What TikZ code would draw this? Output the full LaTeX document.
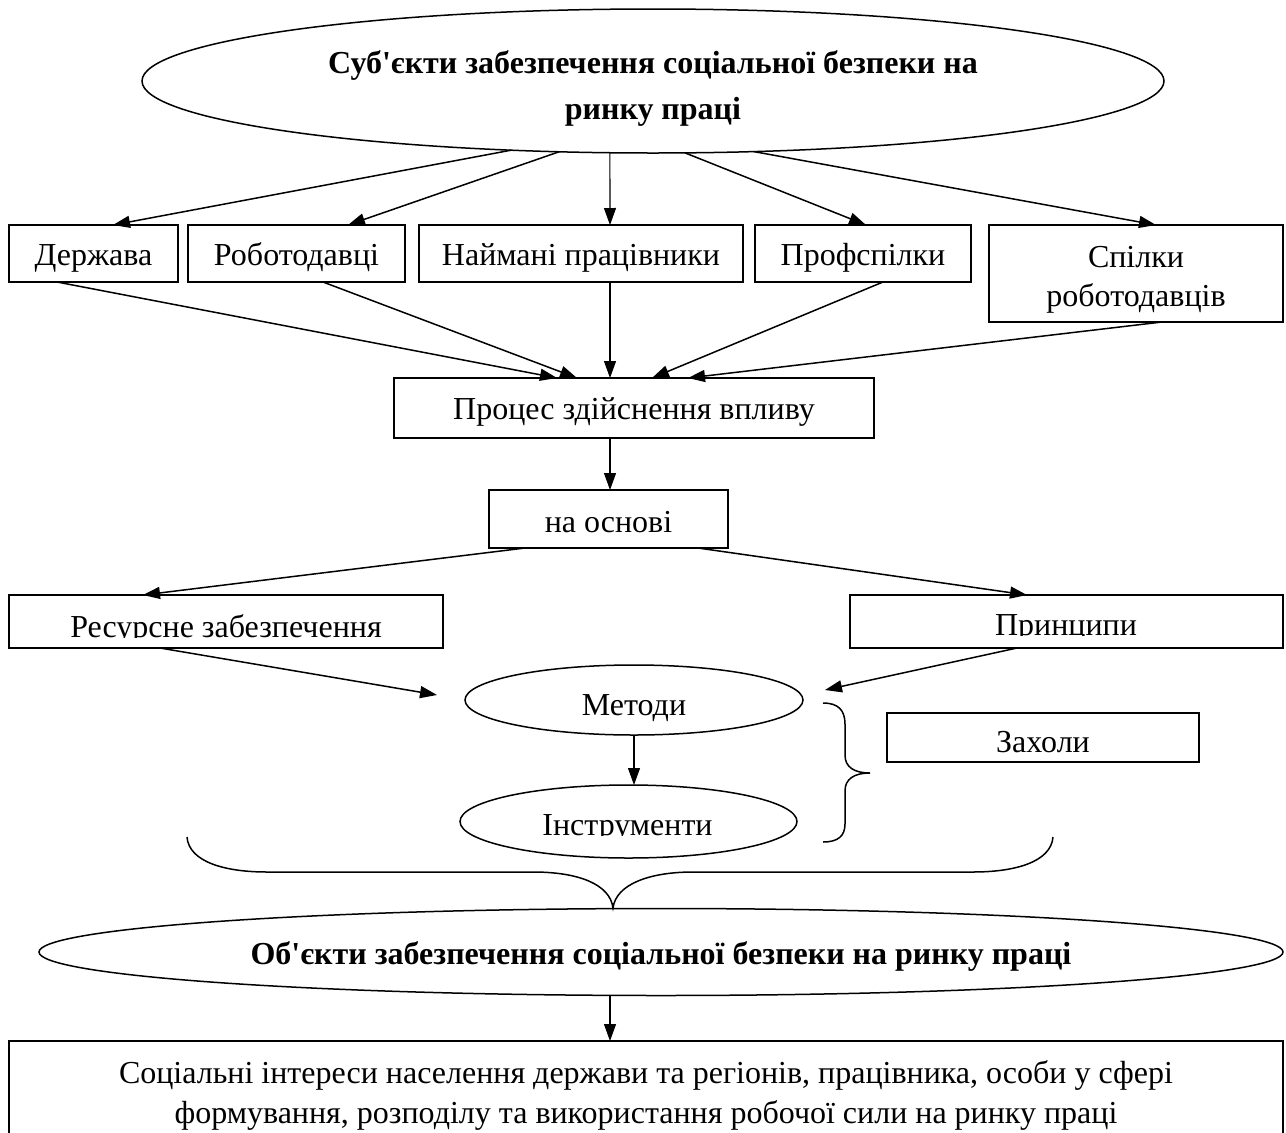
\documentclass[tikz,border=0pt]{standalone}
\usepackage{fontspec}
\setmainfont{Liberation Serif}[Ligatures=TeXOff]
\usetikzlibrary{shapes.geometric,arrows.meta,calc}
\begin{document}
\begin{tikzpicture}[x=1pt,y=-1pt,
  bx/.style={draw,line width=1.5pt,rectangle,inner sep=0pt,outer sep=0pt,
    font=\fontsize{32}{38}\selectfont,align=center,text height=23pt,text depth=0pt},
  bxtwo/.style={draw,line width=1.5pt,rectangle,inner sep=0pt,outer sep=0pt,
    font=\fontsize{32}{39}\selectfont,align=center},
  ell/.style={draw,line width=1.5pt,ellipse,inner sep=0pt,outer sep=0pt,
    font=\fontsize{32}{38}\selectfont,align=center},
  txt/.style={inner sep=0pt,outer sep=0pt,font=\fontsize{32}{38}\selectfont,align=center},
  ttl/.style={inner sep=0pt,outer sep=0pt,font=\bfseries\fontsize{32}{46}\selectfont,align=center},
  arr/.style={line width=1.5pt,-{Triangle[length=17pt,width=12pt]}},
  thinarr/.style={line width=1.1pt,-{Triangle[length=17pt,width=12pt]}},
  brace/.style={line width=1.5pt}
]
\clip (0,0) rectangle (1286,1133);
\fill[white] (0,0) rectangle (1286,1133);

% top ellipse
\node[ell,minimum width=1022pt,minimum height=144pt] (subj) at (653,81) {};
\node[ttl] (subjtxt) at (653,88) {Суб'єкти забезпечення соціальної безпеки на\\ринку праці};

% row of boxes
\node[bx,minimum width=169pt,minimum height=57pt] (derzh) at (93.5,253.5) {Держава};
\node[bx,minimum width=217pt,minimum height=57pt] (robot) at (296.5,253.5) {Роботодавці};
\node[bx,minimum width=324pt,minimum height=57pt] (naim) at (581,253.5) {Наймані працівники};
\node[bx,minimum width=216pt,minimum height=57pt] (prof) at (863,253.5) {Профспілки};
\node[bxtwo,minimum width=294pt,minimum height=97pt] (spilk) at (1136,273.5) {\rule{0pt}{33pt}Спілки\\роботодавців};

\draw[arr] (subj.206.3) -- ([xshift=19.5pt]derzh.north);
\draw[arr] (subj.217.9) -- ([xshift=51.5pt]robot.north);
\draw[thinarr] (subj.239.05) -- ([xshift=29pt]naim.north);
\draw[arr] (subj.294.7) -- ([xshift=3pt]prof.north);
\draw[arr] (subj.325.3) -- ([xshift=20pt]spilk.north);

% process
\node[bx,minimum width=480pt,minimum height=60pt] (proc) at (634,408) {Процес здійснення впливу};
\draw[arr] ([xshift=-36.5pt]derzh.south) -- ([xshift=-77pt]proc.north);
\draw[arr] ([xshift=26.5pt]robot.south) -- ([xshift=-57pt]proc.north);
\draw[thinarr] ([xshift=29pt]naim.south) -- ([xshift=-24pt]proc.north);
\draw[arr] ([xshift=20pt]prof.south) -- ([xshift=18pt]proc.north);
\draw[arr] ([xshift=26pt]spilk.south) -- ([xshift=54pt]proc.north);

% on the basis
\node[bx,minimum width=239pt,minimum height=58pt,text height=26pt] (osn) at (608.5,519) {на основі};
\draw[thinarr] ([xshift=-24pt]proc.south) -- ([xshift=-24pt]proc.south |- osn.north);

% resources / principles
\node[draw,line width=1.5pt,rectangle,inner sep=0pt,outer sep=0pt,minimum width=434pt,minimum height=53pt] (res) at (226,621.5) {};
\node[draw,line width=1.5pt,rectangle,inner sep=0pt,outer sep=0pt,minimum width=433pt,minimum height=53pt] (princ) at (1066.5,621.5) {};
\begin{scope}
  \clip (10,596) rectangle (442,637.5);
  \node[txt,anchor=base] (restxt) at (226,637) {Ресурсне забезпечення};
\end{scope}
\begin{scope}
  \clip (851,596) rectangle (1282,635.5);
  \node[txt,anchor=base] (princtxt) at (1066,635) {Принципи};
\end{scope}
\draw[arr] ([xshift=-83.5pt]osn.south) -- ([xshift=-83pt]res.north);
\draw[arr] ([xshift=89.5pt]osn.south) -- ([xshift=-39.5pt]princ.north);

% methods / instruments
\node[ell,minimum width=338pt,minimum height=70pt,text height=30pt,text depth=0pt] (met) at (634,700) {Методи};
\node[ell,minimum width=337pt,minimum height=73pt] (instr) at (628.5,821.5) {};
\begin{scope}
  \clip (470,790) rectangle (790,835.5);
  \node[txt,anchor=base] (instrtxt) at (627.5,835) {Інструменти};
\end{scope}
\coordinate (metL) at ([xshift=-28pt,yshift=5pt]met.west);
\coordinate (metR) at ([xshift=22pt,yshift=10pt]met.east);
\draw[arr] ([xshift=-66pt]res.south) -- (metL);
\draw[arr] ([xshift=-49.5pt]princ.south) -- (metR);
\draw[thinarr] (met.south) -- (met.south |- instr.north);

% measures
\node[draw,line width=1.5pt,rectangle,inner sep=0pt,outer sep=0pt,minimum width=312pt,minimum height=49pt] (zah) at (1043,737.5) {};
\begin{scope}
  \clip (888,714) rectangle (1198,752.5);
  \node[txt,anchor=base] (zahtxt) at (1043,752) {Захоли};
\end{scope}

% right brace
\draw[brace] (823,703) .. controls (838,703) and (845,710) .. (845,724)
  -- (845,755) .. controls (845,767) and (854,773) .. (870,773)
  .. controls (854,773) and (845,779) .. (845,791)
  -- (845,824) .. controls (845,836) and (838,842) .. (823,842);

% big brace
\draw[brace] (187,837) .. controls (189,862) and (225,872) .. (267,872)
  -- (533,872) .. controls (578,872) and (610,884) .. (613,908)
  .. controls (616,884) and (650,872) .. (693,872)
  -- (973,872) .. controls (1015,872) and (1051,862) .. (1053,837);

% objects ellipse
\node[ell,font=\bfseries\fontsize{32}{38}\selectfont,minimum width=1244pt,minimum height=87pt,text height=24pt,text depth=0pt] (obj) at (661,952) {Об'єкти забезпечення соціальної безпеки на ринку праці};

% bottom box
\node[bxtwo,font=\fontsize{32}{40}\selectfont,minimum width=1274pt,minimum height=108pt] (soc) at (646,1095) {Соціальні інтереси населення держави та регіонів, працівника, особи у сфері\\формування, розподілу та використання робочої сили на ринку праці};
\draw[thinarr] ([xshift=-51pt]obj.south) -- ([xshift=-51pt]obj.south |- soc.north);
\end{tikzpicture}
\end{document}
